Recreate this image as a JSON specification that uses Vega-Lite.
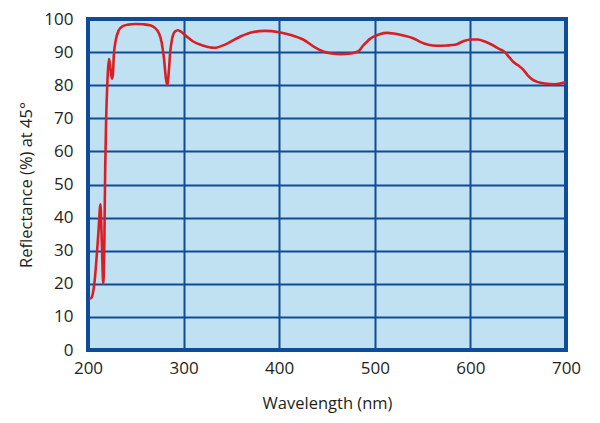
{
  "$schema": "https://vega.github.io/schema/vega-lite/v6.json",
  "autosize": {"type": "none"},
  "width": 478,
  "height": 331,
  "padding": {"left": 88, "top": 19, "right": 34, "bottom": 73},
  "background": "white",
  "config": {
    "view": {"fill": "#c0e1f2", "stroke": "#0f4c97", "strokeWidth": 4},
    "font": "Open Sans"
  },
  "data": {
    "values": [
      {"wl": 201, "r": 15.5}, {"wl": 203, "r": 15.6}, {"wl": 205, "r": 17}, {"wl": 207, "r": 21},
      {"wl": 209, "r": 28}, {"wl": 211, "r": 36}, {"wl": 213, "r": 44}, {"wl": 214.5, "r": 32},
      {"wl": 216, "r": 20}, {"wl": 217, "r": 30}, {"wl": 218, "r": 55}, {"wl": 219, "r": 70},
      {"wl": 220, "r": 79}, {"wl": 221, "r": 85}, {"wl": 222, "r": 88}, {"wl": 223.5, "r": 85},
      {"wl": 225, "r": 82}, {"wl": 226, "r": 83}, {"wl": 227, "r": 89}, {"wl": 229, "r": 93.5},
      {"wl": 232, "r": 96.5}, {"wl": 236, "r": 97.8}, {"wl": 242, "r": 98.3}, {"wl": 250, "r": 98.5},
      {"wl": 258, "r": 98.4}, {"wl": 265, "r": 98.1}, {"wl": 270, "r": 97.3}, {"wl": 274, "r": 95.8},
      {"wl": 277, "r": 93}, {"wl": 279.5, "r": 88}, {"wl": 281.5, "r": 82}, {"wl": 283, "r": 80},
      {"wl": 284.5, "r": 84}, {"wl": 286, "r": 90}, {"wl": 288, "r": 94}, {"wl": 291, "r": 96.2},
      {"wl": 294, "r": 96.6}, {"wl": 298, "r": 96}, {"wl": 303, "r": 94.8}, {"wl": 310, "r": 93.2},
      {"wl": 320, "r": 92}, {"wl": 332, "r": 91.3}, {"wl": 345, "r": 92.5}, {"wl": 360, "r": 94.8},
      {"wl": 372, "r": 96}, {"wl": 385, "r": 96.4}, {"wl": 400, "r": 96}, {"wl": 412, "r": 95.2},
      {"wl": 425, "r": 93.8}, {"wl": 437, "r": 91.5}, {"wl": 446, "r": 90.2}, {"wl": 455, "r": 89.6},
      {"wl": 465, "r": 89.4}, {"wl": 475, "r": 89.6}, {"wl": 483, "r": 90.3}, {"wl": 488, "r": 92},
      {"wl": 495, "r": 94}, {"wl": 505, "r": 95.4}, {"wl": 513, "r": 95.8}, {"wl": 520, "r": 95.6},
      {"wl": 530, "r": 95}, {"wl": 540, "r": 94.2}, {"wl": 548, "r": 93}, {"wl": 556, "r": 92.2},
      {"wl": 565, "r": 91.9}, {"wl": 575, "r": 92}, {"wl": 584, "r": 92.2}, {"wl": 592, "r": 93.2},
      {"wl": 600, "r": 93.8}, {"wl": 608, "r": 93.8}, {"wl": 615, "r": 93.2}, {"wl": 622, "r": 92.3},
      {"wl": 630, "r": 91}, {"wl": 636, "r": 90}, {"wl": 641, "r": 88.3}, {"wl": 645, "r": 87},
      {"wl": 650, "r": 86}, {"wl": 655, "r": 84.8}, {"wl": 660, "r": 83}, {"wl": 665, "r": 81.7},
      {"wl": 670, "r": 81}, {"wl": 678, "r": 80.5}, {"wl": 688, "r": 80.3}, {"wl": 695, "r": 80.6},
      {"wl": 700, "r": 81}
    ]
  },
  "mark": {"type": "line", "color": "#d91f26", "strokeWidth": 2.6, "interpolate": "monotone", "clip": true},
  "encoding": {
    "x": {
      "field": "wl", "type": "quantitative",
      "scale": {"domain": [200, 700], "nice": false, "zero": false},
      "axis": {
        "title": "Wavelength (nm)", "values": [200, 300, 400, 500, 600, 700],
        "grid": true, "gridColor": "#0f4c97", "gridWidth": 2, "gridOpacity": 1,
        "domain": false, "ticks": false, "labelPadding": 10,
        "labelFontSize": 17, "labelColor": "#231f20", "labelFlush": false,
        "titleFontSize": 16.5, "titleFontWeight": "normal", "titleColor": "#231f20", "titlePadding": 19
      }
    },
    "y": {
      "field": "r", "type": "quantitative",
      "scale": {"domain": [0, 100], "nice": false},
      "axis": {
        "title": "Reflectance (%) at 45°", "values": [0, 10, 20, 30, 40, 50, 60, 70, 80, 90, 100],
        "grid": true, "gridColor": "#0f4c97", "gridWidth": 2, "gridOpacity": 1,
        "domain": false, "ticks": false, "labelPadding": 15,
        "labelFontSize": 17, "labelColor": "#231f20", "labelFlush": false,
        "titleFontSize": 16.5, "titleFontWeight": "normal", "titleColor": "#231f20", "titlePadding": 9
      }
    }
  }
}
